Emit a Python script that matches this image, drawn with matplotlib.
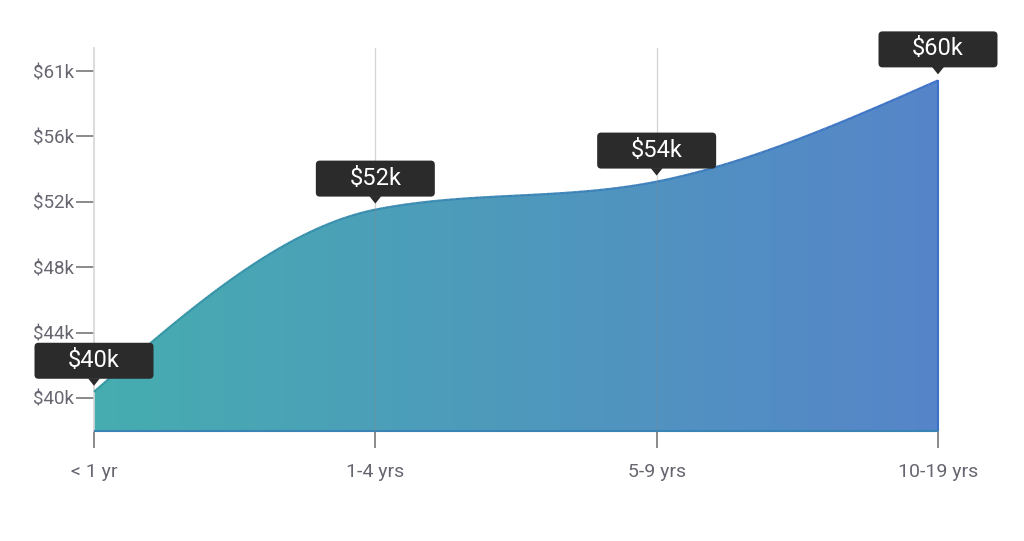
import numpy as np
import matplotlib
matplotlib.use("Agg")
import matplotlib.pyplot as plt
from matplotlib.patches import FancyBboxPatch, Polygon
from matplotlib.collections import LineCollection
from matplotlib.transforms import IdentityTransform
from matplotlib.colors import LinearSegmentedColormap

plt.rcParams['font.family'] = ['Roboto', 'DejaVu Sans']

categories = ["< 1 yr", "1-4 yrs", "5-9 yrs", "10-19 yrs"]
salaries = [40400, 52100, 53900, 60400]
point_labels = ["$40k", "$52k", "$54k", "$60k"]
ytick_values = [40000, 44200, 48400, 52600, 56800, 61000]
ytick_labels = ["$40k", "$44k", "$48k", "$52k", "$56k", "$61k"]

W, H = 1024, 541
fig = plt.figure(figsize=(W / 100, H / 100), dpi=100)
ax = fig.add_axes([94 / W, 1 - 431 / H, (938 - 94) / W, (431 - 48) / H])

xs = np.arange(len(categories), dtype=float)
ys = np.array(salaries, dtype=float)

# d3 curveMonotoneX
h = np.diff(xs)
s = np.diff(ys) / h
m = np.zeros_like(ys)
for i in range(1, len(ys) - 1):
    p = (s[i - 1] * h[i] + s[i] * h[i - 1]) / (h[i - 1] + h[i])
    m[i] = (np.sign(s[i - 1]) + np.sign(s[i])) * min(abs(s[i - 1]), abs(s[i]), 0.5 * abs(p))
m[0] = (3 * s[0] - m[1]) / 2
m[-1] = (3 * s[-1] - m[-2]) / 2
cx, cy = [], []
for i in range(len(ys) - 1):
    t = np.linspace(0, 1, 120)
    h00 = 2 * t**3 - 3 * t**2 + 1
    h10 = t**3 - 2 * t**2 + t
    h01 = -2 * t**3 + 3 * t**2
    h11 = t**3 - t**2
    cx.append(xs[i] + t * h[i])
    cy.append(h00 * ys[i] + h10 * h[i] * m[i] + h01 * ys[i + 1] + h11 * h[i] * m[i + 1])
cx = np.concatenate(cx)
cy = np.concatenate(cy)

ymin, ymax = 37880, 62480
ax.set_xlim(0, 3)
ax.set_ylim(ymin, ymax)

# gradient fill
c_left = np.array([70, 173, 176]) / 255
c_right = np.array([86, 133, 201]) / 255
cmap = LinearSegmentedColormap.from_list("g", [c_left, c_right])
grad = np.linspace(0, 1, 256).reshape(1, -1)
im = ax.imshow(grad, cmap=cmap, extent=[0, 3, ymin, ymax], aspect='auto', zorder=1)
poly_x = np.concatenate([cx, [3, 0]])
poly_y = np.concatenate([cy, [ymin, ymin]])
clip = Polygon(np.column_stack([poly_x, poly_y]), closed=True, transform=ax.transData,
               facecolor='none', edgecolor='none')
ax.add_patch(clip)
im.set_clip_path(clip)

# outline with gradient color
e_left = np.array([52, 152, 162]) / 255
e_right = np.array([62, 112, 200]) / 255
ox = np.concatenate([cx, [3, 3, 0]])
oy = np.concatenate([cy, [ymin, ymin, ymin]])
pts = np.column_stack([ox, oy])
segs = np.stack([pts[:-1], pts[1:]], axis=1)
frac = ((segs[:, 0, 0] + segs[:, 1, 0]) / 2) / 3
cols = [tuple(e_left * (1 - f) + e_right * f) for f in frac]
lc = LineCollection(segs, colors=cols, linewidths=1.5, zorder=3, clip_on=False)
ax.add_collection(lc)

# vertical grid lines
for xv in [1, 2]:
    ax.axvline(xv, color='#888888', alpha=0.35, lw=0.9, zorder=4)

for sp in ['top', 'right', 'bottom']:
    ax.spines[sp].set_visible(False)
ax.spines['left'].set_color('#d6d6d6')
ax.spines['left'].set_linewidth(1.2)
ax.spines['left'].set_bounds(ymin, ymax)

ax.set_yticks(ytick_values)
ax.set_yticklabels(ytick_labels)
ax.set_xticks(xs)
ax.set_xticklabels(categories)
ax.tick_params(axis='y', length=13, width=1.2, color='#777777', labelcolor='#666670',
               labelsize=13.5, pad=1.5)
ax.tick_params(axis='x', length=12, width=1.2, color='#777777', labelcolor='#666670',
               labelsize=14, pad=11)

# tooltips
ident = IdentityTransform()
bw, bh = 119, 36
for xv, yv, lab in zip(xs, ys, point_labels):
    px, py = ax.transData.transform((xv, yv))
    bottom = py + 13
    box = FancyBboxPatch((px - bw / 2, bottom), bw, bh,
                         boxstyle="round,pad=0,rounding_size=4",
                         transform=ident, facecolor='#2b2b2b', edgecolor='none',
                         zorder=10, clip_on=False)
    fig.add_artist(box)
    tri = Polygon([[px - 6, bottom + 0.5], [px + 6, bottom + 0.5], [px, py + 6]], closed=True,
                  transform=ident, facecolor='#2b2b2b', edgecolor='none', zorder=10, clip_on=False)
    fig.add_artist(tri)
    fig.text((px) / W, (bottom + bh / 2 + 0.5) / H, lab, color='white', fontsize=17,
             ha='center', va='center', zorder=11)

fig.savefig("out.png", dpi=100)
